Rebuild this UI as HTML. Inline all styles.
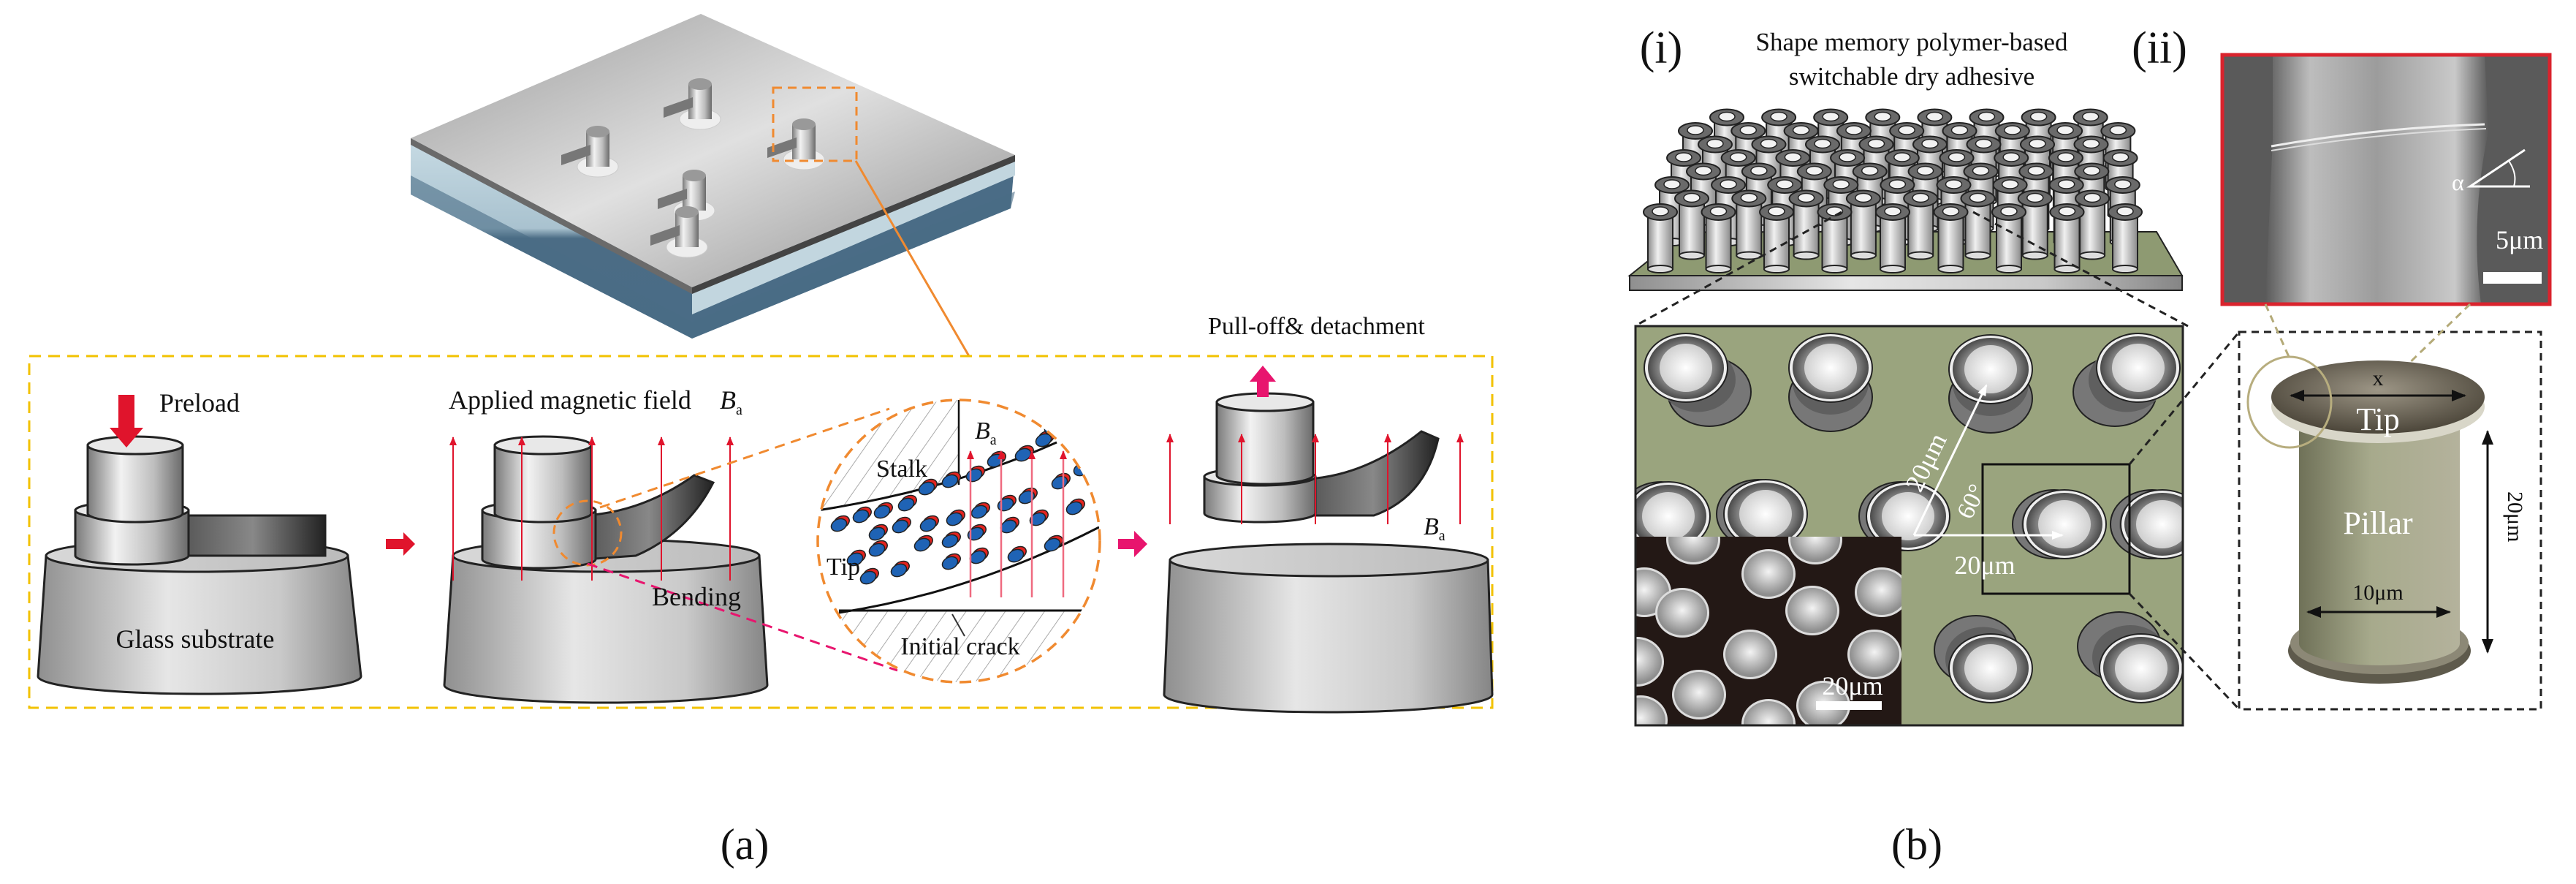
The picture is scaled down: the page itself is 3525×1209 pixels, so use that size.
<!DOCTYPE html>
<html><head><meta charset="utf-8">
<style>
html,body{margin:0;padding:0;background:#fff;}
svg{display:block;}
text{font-family:"Liberation Serif",serif;fill:#111;}
</style></head>
<body>
<svg id="s" width="3525" height="1209" viewBox="0 0 3525 1209" xmlns="http://www.w3.org/2000/svg">
<defs>
<linearGradient id="cyl" x1="0" x2="1" y1="0" y2="0">
<stop offset="0" stop-color="#7a7a7a"/><stop offset="0.35" stop-color="#f2f2f2"/><stop offset="0.7" stop-color="#bdbdbd"/><stop offset="1" stop-color="#6a6a6a"/></linearGradient>
<linearGradient id="base" x1="0" x2="1" y1="0" y2="0">
<stop offset="0" stop-color="#8f8f8f"/><stop offset="0.4" stop-color="#e6e6e6"/><stop offset="0.75" stop-color="#c9c9c9"/><stop offset="1" stop-color="#858585"/></linearGradient>
<linearGradient id="baseTop" x1="0" x2="1"><stop offset="0" stop-color="#d8d8d8"/><stop offset="1" stop-color="#bbbbbb"/></linearGradient>
<linearGradient id="band" x1="0" x2="1"><stop offset="0" stop-color="#555"/><stop offset="0.5" stop-color="#888"/><stop offset="1" stop-color="#222"/></linearGradient>
<linearGradient id="plateTop" x1="0" y1="0" x2="1" y2="1"><stop offset="0" stop-color="#9a9a9a"/><stop offset="0.5" stop-color="#e0e0e0"/><stop offset="1" stop-color="#8c8c8c"/></linearGradient>
<linearGradient id="glassL" x1="0" y1="0" x2="0" y2="1"><stop offset="0" stop-color="#c7dbe4"/><stop offset="0.45" stop-color="#a9c2cf"/><stop offset="0.5" stop-color="#4b6c85"/><stop offset="1" stop-color="#4a6c86"/></linearGradient>
<linearGradient id="pil" x1="0" x2="1"><stop offset="0" stop-color="#8a8a8a"/><stop offset="0.4" stop-color="#f0f0f0"/><stop offset="1" stop-color="#8a8a8a"/></linearGradient>
<radialGradient id="tipw" cx="0.5" cy="0.5" r="0.5"><stop offset="0" stop-color="#fff"/><stop offset="1" stop-color="#cfcfcf"/></radialGradient>
<radialGradient id="ring" cx="0.5" cy="0.5" r="0.5"><stop offset="0.6" stop-color="#9a9a9a"/><stop offset="1" stop-color="#4a4a4a"/></radialGradient>
<radialGradient id="ball" cx="0.5" cy="0.45" r="0.5"><stop offset="0" stop-color="#f4f4f4"/><stop offset="1" stop-color="#8e8e8e"/></radialGradient>
<linearGradient id="gp" x1="0" x2="1"><stop offset="0" stop-color="#6f7158"/><stop offset="0.45" stop-color="#a7aa8c"/><stop offset="1" stop-color="#b4b29c"/></linearGradient>
<radialGradient id="gtop" cx="0.5" cy="0.4" r="0.6"><stop offset="0" stop-color="#9d9686"/><stop offset="1" stop-color="#4c463a"/></radialGradient>
<linearGradient id="sem" x1="0" x2="1"><stop offset="0" stop-color="#5a5a5a"/><stop offset="0.2" stop-color="#bdbdbd"/><stop offset="0.5" stop-color="#9c9c9c"/><stop offset="0.85" stop-color="#c9c9c9"/><stop offset="1" stop-color="#5a5a5a"/></linearGradient>
<pattern id="hatch" width="22" height="22" patternUnits="userSpaceOnUse" patternTransform="rotate(35)"><line x1="0" y1="0" x2="0" y2="22" stroke="#aaa" stroke-width="2"/></pattern>
<marker id="ar" markerUnits="userSpaceOnUse" markerWidth="12" markerHeight="14" refX="11" refY="7" orient="auto"><path d="M0,2 L12,7 L0,12 z" fill="#e0142c"/></marker>
<marker id="aw" markerUnits="userSpaceOnUse" markerWidth="16" markerHeight="14" refX="14" refY="7" orient="auto"><path d="M0,1 L16,7 L0,13 z" fill="#fff"/></marker>
<marker id="ab" markerUnits="userSpaceOnUse" markerWidth="20" markerHeight="16" refX="18" refY="8" orient="auto"><path d="M0,0 L20,8 L0,16 z" fill="#111"/></marker>
<marker id="abs" markerUnits="userSpaceOnUse" markerWidth="20" markerHeight="16" refX="2" refY="8" orient="auto"><path d="M20,0 L0,8 L20,16 z" fill="#111"/></marker>
<clipPath id="cgreen"><rect x="2238" y="446" width="749" height="546"/></clipPath>
<clipPath id="cblack"><rect x="2238" y="734" width="364" height="258"/></clipPath>
<clipPath id="ccirc"><circle cx="1312" cy="740" r="193"/></clipPath>
</defs>

<!-- ===== Plate (top) ===== -->
<polygon points="562,189 947,393 947,463 562,266" fill="url(#glassL)"/>
<polygon points="947,393 1389,212 1383,285 947,463" fill="#4a6c86"/>
<polygon points="947,393 1389,212 1389,240 947,430" fill="#c2d6df"/>
<polygon points="562,266 947,463 1383,285 1389,262 947,440 562,240" fill="#4a6c86" opacity="0.6"/>
<polygon points="959,19 1389,212 947,393 562,189" fill="url(#plateTop)"/>
<polygon points="562,189 947,393 947,402 562,198" fill="#6a6a6a"/>
<polygon points="947,393 1389,212 1389,221 947,402" fill="#444"/>
<g id="studs"></g>
<rect x="1058" y="120" width="114" height="100" fill="none" stroke="#f08a30" stroke-width="3" stroke-dasharray="12,8"/>
<line x1="1171" y1="220" x2="1326" y2="487" stroke="#f08a30" stroke-width="3"/>

<!-- ===== Yellow dashed box ===== -->
<rect x="40" y="487" width="2002" height="481" fill="none" stroke="#f2c200" stroke-width="3" stroke-dasharray="16,10"/>

<g id="stages"></g>

<polygon points="528,737 552,737 552,728 568,744 552,760 552,751 528,751" fill="#e0142c"/>
<polygon points="1530,737 1552,737 1552,726 1570,744 1552,762 1552,751 1530,751" fill="#e8156e"/>

<!-- circle detail -->
<g clip-path="url(#ccirc)">
<rect x="1100" y="540" width="430" height="400" fill="#fff"/>
<path d="M1100,540 L1312,540 L1312,663 Q1230,680 1119,698 L1100,700 Z" fill="url(#hatch)"/>
<path d="M1100,835 L1520,835 L1520,950 L1100,950 Z" fill="url(#hatch)"/>
<path d="M1119,698 Q1300,670 1446,605" fill="none" stroke="#111" stroke-width="3"/>
<path d="M1148,838 Q1330,810 1504,721" fill="none" stroke="#111" stroke-width="3"/>
<line x1="1148" y1="835" x2="1481" y2="835" stroke="#111" stroke-width="3"/>
<line x1="1312" y1="547" x2="1312" y2="663" stroke="#111" stroke-width="2.5"/>
<g id="dots"></g>
<line x1="1320" y1="870" x2="1303" y2="840" stroke="#333" stroke-width="2"/>
</g>
<circle cx="1312" cy="740" r="193" fill="none" stroke="#f08a30" stroke-width="3.5" stroke-dasharray="16,10"/>
<text x="1234" y="652" font-size="34" text-anchor="middle">Stalk</text>
<text x="1154" y="786" font-size="34" text-anchor="middle">Tip</text>
<text x="1314" y="895" font-size="34" text-anchor="middle">Initial crack</text>
<text x="1334" y="600" font-size="34" font-style="italic">B<tspan font-size="20" dy="8" font-style="normal">a</tspan></text>
<line x1="821" y1="694" x2="1217" y2="559" stroke="#f08a30" stroke-width="3" stroke-dasharray="14,9"/>
<line x1="804" y1="771" x2="1228" y2="917" stroke="#e8156e" stroke-width="3" stroke-dasharray="14,9"/>

<text x="218" y="563" font-size="36">Preload</text>
<text x="614" y="559" font-size="36">Applied magnetic field</text>
<text x="985" y="559" font-size="36" font-style="italic">B<tspan font-size="20" dy="8" font-style="normal">a</tspan></text>
<text x="267" y="886" font-size="36" text-anchor="middle">Glass substrate</text>
<text x="953" y="828" font-size="36" text-anchor="middle">Bending</text>
<text x="1653" y="457" font-size="34">Pull-off&amp; detachment</text>
<text x="1948" y="731" font-size="34" font-style="italic">B<tspan font-size="20" dy="8" font-style="normal">a</tspan></text>
<text x="1019" y="1175" font-size="60" text-anchor="middle">(a)</text>

<!-- ===== Panel b ===== -->
<text x="2273" y="86" font-size="62" text-anchor="middle">(i)</text>
<text x="2955" y="86" font-size="62" text-anchor="middle">(ii)</text>
<text x="2616" y="69" font-size="35" text-anchor="middle">Shape memory polymer-based</text>
<text x="2616" y="116" font-size="35" text-anchor="middle">switchable dry adhesive</text>

<polygon points="2305,317 2951,317 2986,377 2230,377" fill="#8e9a72" stroke="#222" stroke-width="2"/>
<rect x="2230" y="377" width="756" height="20" fill="url(#base)" stroke="#222" stroke-width="2"/>
<g id="arr"></g>
<line x1="2520" y1="290" x2="2237" y2="446" stroke="#222" stroke-width="3" stroke-dasharray="10,7"/>
<line x1="2700" y1="290" x2="2994" y2="446" stroke="#222" stroke-width="3" stroke-dasharray="10,7"/>

<rect x="2238" y="446" width="749" height="546" fill="#9aa47e"/>
<g id="gc" clip-path="url(#cgreen)"></g>
<rect x="2238" y="734" width="364" height="258" fill="#231815"/>
<g id="bc" clip-path="url(#cblack)"></g>
<rect x="2238" y="446" width="749" height="546" fill="none" stroke="#222" stroke-width="3"/>
<rect x="2713" y="635" width="201" height="177" fill="none" stroke="#111" stroke-width="3"/>
<line x1="2619" y1="732" x2="2822" y2="732" stroke="#fff" stroke-width="3" marker-end="url(#aw)"/>
<line x1="2619" y1="732" x2="2718" y2="527" stroke="#fff" stroke-width="3" marker-end="url(#aw)"/>
<text x="0" y="0" font-size="36" style="fill:#fff" transform="translate(2628,675) rotate(-64)">20μm</text>
<text x="0" y="0" font-size="34" style="fill:#fff" transform="translate(2697,712) rotate(-64)">60°</text>
<text x="2716" y="785" font-size="36" text-anchor="middle" style="fill:#fff">20μm</text>
<rect x="2485" y="959" width="90" height="12" fill="#fff"/>
<text x="2535" y="950" font-size="36" text-anchor="middle" style="fill:#fff">20μm</text>
<line x1="2914" y1="635" x2="3064" y2="454" stroke="#222" stroke-width="3" stroke-dasharray="10,7"/>
<line x1="2914" y1="812" x2="3064" y2="970" stroke="#222" stroke-width="3" stroke-dasharray="10,7"/>

<!-- SEM -->
<rect x="3041" y="75" width="448" height="341" fill="#5a5a5a"/>
<path d="M3110,75 L3400,75 L3405,180 Q3380,300 3395,416 L3100,416 Q3105,300 3110,190 Z" fill="url(#sem)"/>
<path d="M3108,200 Q3250,175 3400,170" fill="none" stroke="#eee" stroke-width="3"/>
<path d="M3108,206 Q3250,182 3402,176" fill="none" stroke="#ddd" stroke-width="2"/>
<text x="3355" y="260" font-size="32" style="fill:#fff">α</text>
<polyline points="3455,205 3380,255 3462,255" fill="none" stroke="#fff" stroke-width="3"/>
<path d="M3433,220 Q3445,238 3440,255" fill="none" stroke="#fff" stroke-width="2"/>
<text x="3415" y="340" font-size="36" style="fill:#fff">5μm</text>
<rect x="3398" y="372" width="80" height="16" fill="#fff"/>
<rect x="3041" y="75" width="448" height="341" fill="none" stroke="#d9232d" stroke-width="5"/>

<rect x="3064" y="454" width="413" height="516" fill="none" stroke="#222" stroke-width="3" stroke-dasharray="10,7"/>
<line x1="3100" y1="416" x2="3133" y2="490" stroke="#b4aa78" stroke-width="3" stroke-dasharray="10,7"/>
<line x1="3380" y1="416" x2="3190" y2="600" stroke="#b4aa78" stroke-width="3" stroke-dasharray="10,7"/>
<ellipse cx="3256" cy="890" rx="125" ry="45" fill="#5e5a4c"/>
<ellipse cx="3256" cy="880" rx="122" ry="42" fill="#8c8876"/>
<rect x="3146" y="560" width="220" height="320" fill="url(#gp)"/>
<ellipse cx="3256" cy="880" rx="110" ry="30" fill="url(#gp)"/>
<ellipse cx="3254" cy="556" rx="146" ry="50" fill="#d8d6c8"/>
<ellipse cx="3254" cy="543" rx="146" ry="50" fill="url(#gtop)"/>
<line x1="3135" y1="541" x2="3373" y2="541" stroke="#111" stroke-width="3" marker-end="url(#ab)" marker-start="url(#abs)"/>
<text x="3254" y="527" font-size="30" text-anchor="middle">x</text>
<text x="3254" y="588" font-size="44" text-anchor="middle" style="fill:#fff">Tip</text>
<text x="3254" y="730" font-size="44" text-anchor="middle" style="fill:#fff">Pillar</text>
<line x1="3158" y1="837" x2="3352" y2="837" stroke="#111" stroke-width="3" marker-end="url(#ab)" marker-start="url(#abs)"/>
<text x="3254" y="820" font-size="30" text-anchor="middle">10μm</text>
<line x1="3404" y1="590" x2="3404" y2="892" stroke="#111" stroke-width="3" marker-end="url(#ab)" marker-start="url(#abs)"/>
<text x="0" y="0" font-size="30" transform="translate(3432,672) rotate(90)">20μm</text>
<ellipse cx="3133" cy="550" rx="57" ry="62" fill="none" stroke="#b7ad7e" stroke-width="3"/>

<text x="2623" y="1175" font-size="60" text-anchor="middle">(b)</text>
</svg>
<script>
var NS="http://www.w3.org/2000/svg";
function el(p,t,a){var e=document.createElementNS(NS,t);for(var k in a)e.setAttribute(k,a[k]);p.appendChild(e);return e;}
var g;
g=document.getElementById('studs');
[[818,210],[958,145],[950,270],[1100,200],[940,320]].forEach(function(s){
 var x=s[0],y=s[1];
 el(g,'ellipse',{cx:x,cy:y+18,rx:28,ry:14,fill:'#eee',stroke:'#ccc'});
 el(g,'rect',{x:x-16,y:y-30,width:32,height:48,fill:'url(#cyl)'});
 el(g,'path',{d:'M'+(x-10)+','+(y-12)+' l-40,14 l0,14 l40,-14z',fill:'#777'});
 el(g,'ellipse',{cx:x,cy:y-30,rx:16,ry:8,fill:'#999'});
});
g=document.getElementById('stages');
function base(x1,x2,yt,b1,b2,yb){
 var cx=(x1+x2)/2,rx=(x2-x1)/2,brx=(b2-b1)/2;
 el(g,'path',{d:'M'+x1+','+yt+' L'+b1+','+yb+' A'+brx+',24 0 0 0 '+b2+','+yb+' L'+x2+','+yt+' Z',fill:'url(#base)',stroke:'#222','stroke-width':3});
 el(g,'ellipse',{cx:cx,cy:yt,rx:rx,ry:22,fill:'url(#baseTop)',stroke:'#222','stroke-width':3});
}
function cylinder(x1,x2,yt,yb){
 var cx=(x1+x2)/2,rx=(x2-x1)/2;
 el(g,'path',{d:'M'+x1+','+yt+' L'+x1+','+yb+' A'+rx+',12 0 0 0 '+x2+','+yb+' L'+x2+','+yt+' Z',fill:'url(#cyl)',stroke:'#222','stroke-width':3});
 el(g,'ellipse',{cx:cx,cy:yt,rx:rx,ry:12,fill:'#e8e8e8',stroke:'#222','stroke-width':3});
}
function varrow(x,y1,y2,c){el(g,'line',{x1:x,y1:y2,x2:x,y2:y1,stroke:c||'#e0142c','stroke-width':2,'marker-end':'url(#ar)'});}
base(63,476,760,52,494,925);
el(g,'rect',{x:247,y:705,width:198,height:55,fill:'url(#band)',stroke:'#222','stroke-width':3});
cylinder(103,258,698,760);
cylinder(120,250,609,702);
el(g,'polygon',{points:'162,540 184,540 184,585 196,585 173,612 150,585 162,585',fill:'#e0142c'});
base(620,1039,760,608,1050,937);
el(g,'path',{d:'M800,705 Q880,700 950,650 L976,660 Q940,730 870,760 L800,765 Z',fill:'url(#band)',stroke:'#222','stroke-width':3});
cylinder(660,815,698,765);
cylinder(677,809,609,702);
[620,714,810,905,999].forEach(function(x){varrow(x,598,794);});
el(g,'ellipse',{cx:804,cy:729,rx:46,ry:44,fill:'none',stroke:'#f08a30','stroke-width':3,'stroke-dasharray':'12,8'});
base(1601,2036,766,1593,2042,950);
el(g,'path',{d:'M1790,655 Q1870,650 1945,590 L1968,600 Q1950,680 1880,705 L1790,705 Z',fill:'url(#band)',stroke:'#222','stroke-width':3});
cylinder(1648,1800,652,702);
cylinder(1665,1797,550,650);
[1601,1699,1800,1899,1998].forEach(function(x){varrow(x,594,717);});
el(g,'polygon',{points:'1720,543 1736,543 1736,522 1746,522 1728,500 1710,522 1720,522',fill:'#e8156e'});
g=document.getElementById('dots');
var dots=[[1148,718],[1178,706],[1207,700],[1240,690],[1268,668],[1300,658],[1333,650],[1362,630],[1400,622],[1428,602],[1440,585],
[1200,730],[1232,720],[1270,718],[1306,710],[1340,700],[1376,690],[1405,680],[1450,660],[1480,642],
[1170,765],[1200,752],[1262,745],[1300,740],[1335,730],[1380,720],[1420,710],[1470,695],
[1188,790],[1230,780],[1300,770],[1338,762],[1390,760],[1440,745]];
dots.forEach(function(d){el(g,'ellipse',{cx:d[0]+5,cy:d[1]-2,rx:11,ry:8,fill:'#e3231f',stroke:'#222','stroke-width':1.5,transform:'rotate(-25 '+d[0]+' '+d[1]+')'});
el(g,'ellipse',{cx:d[0],cy:d[1],rx:11,ry:8,fill:'#1f63b5',stroke:'#222','stroke-width':1.5,transform:'rotate(-25 '+d[0]+' '+d[1]+')'});});
[1328,1370,1412,1455].forEach(function(x){el(g,'line',{x1:x,y1:817,x2:x,y2:617,stroke:'#ef6a80','stroke-width':2.5,'marker-end':'url(#ar)'});});
g=document.getElementById('arr');
for(var r=7;r>=0;r--){
 var yt=290-r*18.5, n=9, sp=79.5-r*1.2, x0=2272+r*8+(r%2?35:0);
 if(r%2){n=8+(r<4?1:0);}
 for(var i=0;i<n;i++){
  var x=x0+i*sp; if(x>2935)continue;
  el(g,'rect',{x:x-17,y:yt,width:34,height:78,fill:'url(#pil)',stroke:'#222','stroke-width':2});
  el(g,'ellipse',{cx:x,cy:yt+78,rx:17,ry:5,fill:'#ddd',stroke:'#222','stroke-width':2});
  el(g,'ellipse',{cx:x,cy:yt,rx:23,ry:11,fill:'#6a6a6a',stroke:'#222','stroke-width':2});
  el(g,'ellipse',{cx:x,cy:yt-1,rx:11,ry:6,fill:'#f2f2f2',stroke:'#222','stroke-width':1.5});
 }
}
g=document.getElementById('gc');
var gcs=[[2307,503,32,33],[2505,503,0,40],[2724,505,0,40],[2926,503,-32,33],[2283,706,-10,0],[2416,703,-10,0],[2611,706,-10,0],[2825,717,-14,0],[2959,717,-14,0],[2724,914,-20,-25],[2930,914,-30,-30]];
gcs.forEach(function(c){
 var x=c[0],y=c[1];
 el(g,'ellipse',{cx:x+c[2],cy:y+c[3],rx:57,ry:47,fill:'#777',stroke:'#222','stroke-width':2});
 el(g,'ellipse',{cx:x+c[2]*0.5,cy:y+c[3]*0.5,rx:52,ry:44,fill:'#5f5f5f'});
 el(g,'ellipse',{cx:x,cy:y,rx:57,ry:47,fill:'#eee',stroke:'#222','stroke-width':2});
 el(g,'ellipse',{cx:x,cy:y,rx:52,ry:43,fill:'url(#ring)'});
 el(g,'ellipse',{cx:x,cy:y,rx:36,ry:33,fill:'url(#tipw)'});
});
g=document.getElementById('bc');
[[2317,738],[2484,738],[2420,785],[2575,810],[2250,810],[2302,838],[2480,835],[2240,905],[2395,895],[2565,895],[2325,950],[2495,965],[2245,985],[2420,990]].forEach(function(b){
 el(g,'ellipse',{cx:b[0],cy:b[1],rx:37,ry:34,fill:'#ddd'});
 el(g,'ellipse',{cx:b[0],cy:b[1],rx:34,ry:31,fill:'url(#ball)'});
});
</script>
</body></html>
